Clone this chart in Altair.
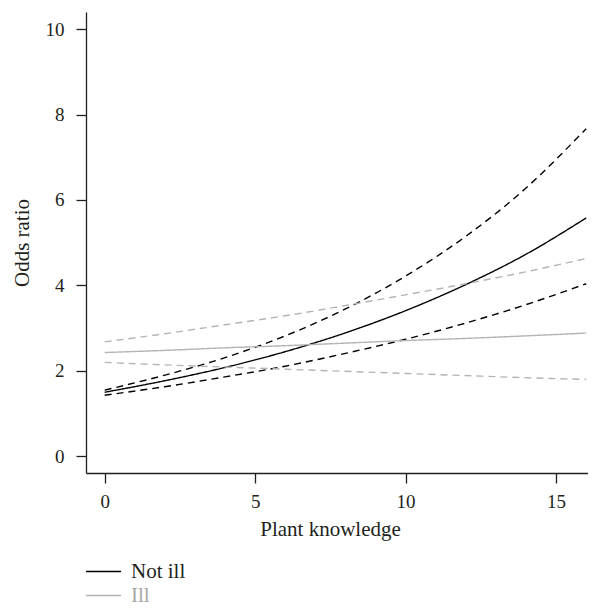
import altair as alt
import pandas as pd

# Plant knowledge values where the curves were read
x_vals = [0, 2, 4, 6, 8, 10, 12, 14, 16]

# Not ill: estimate and confidence band (odds ratio)
notill_est = [1.50, 1.77, 2.08, 2.45, 2.89, 3.41, 4.02, 4.73, 5.58]
notill_hi = [1.55, 1.90, 2.31, 2.82, 3.45, 4.22, 5.15, 6.28, 7.67]
notill_lo = [1.43, 1.63, 1.86, 2.11, 2.41, 2.74, 3.12, 3.55, 4.04]

# Ill: estimate and confidence band (odds ratio)
ill_est = [2.43, 2.48, 2.54, 2.59, 2.65, 2.71, 2.76, 2.82, 2.885]
ill_hi = [2.68, 2.87, 3.08, 3.29, 3.53, 3.78, 4.04, 4.32, 4.63]
ill_lo = [2.20, 2.14, 2.09, 2.04, 1.99, 1.94, 1.89, 1.84, 1.80]

groups = ["Not ill", "Ill"]
kinds = ["estimate", "lower", "upper"]

series = {
    ("Not ill", "estimate"): notill_est,
    ("Not ill", "upper"): notill_hi,
    ("Not ill", "lower"): notill_lo,
    ("Ill", "estimate"): ill_est,
    ("Ill", "upper"): ill_hi,
    ("Ill", "lower"): ill_lo,
}

rows = []
for (g, k), ys in series.items():
    for xv, yv in zip(x_vals, ys):
        rows.append({"x": xv, "y": yv, "group": g, "kind": k, "line": g + "-" + k})
df = pd.DataFrame(rows)

FONT = "Liberation Serif"
TXT = "#231f20"

chart = alt.Chart(df).mark_line(interpolate="monotone", strokeWidth=1.4).encode(
    x=alt.X(
        "x:Q",
        scale=alt.Scale(domain=[-0.62, 16.06], nice=False, zero=False),
        axis=alt.Axis(values=[0, 5, 10, 15], title="Plant knowledge",
                      labelPadding=9, titlePadding=7, titleX=244),
    ),
    y=alt.Y(
        "y:Q",
        scale=alt.Scale(domain=[-0.39, 10.4], nice=False, zero=False),
        axis=alt.Axis(values=[0, 2, 4, 6, 8, 10], title="Odds ratio",
                      labelPadding=12, titlePadding=13),
    ),
    color=alt.Color(
        "group:N",
        scale=alt.Scale(domain=groups, range=["#000000", "#b4b4b4"]),
        legend=alt.Legend(
            title=None,
            orient="none",
            legendX=7,
            legendY=549,
            symbolType="M-2,0H2",
            symbolSize=306,
            symbolStrokeWidth=1.5,
            labelFont=FONT,
            labelFontSize=21,
            labelOffset=17,
            rowPadding=2,
            labelColor={"expr": "datum.label == 'Ill' ? '#a8a8a8' : '#231f20'"},
        ),
    ),
    strokeDash=alt.StrokeDash(
        "kind:N",
        scale=alt.Scale(domain=kinds, range=[[1, 0], [7, 5], [7, 5]]),
        legend=None,
    ),
    detail="line:N",
).properties(
    width=502,
    height=461,
    autosize=alt.AutoSizeParams(type="none"),
    padding={"left": 78, "top": 4, "right": 0, "bottom": 133},
).configure_view(
    stroke=None
).configure_axis(
    grid=False,
    domainColor=TXT,
    tickColor=TXT,
    domainWidth=1.3,
    tickWidth=1.3,
    tickSize=10,
    labelFont=FONT,
    labelFontSize=19,
    labelColor=TXT,
    titleFont=FONT,
    titleFontSize=21,
    titleFontWeight="normal",
    titleColor=TXT,
)

chart.save("out.html", embed_options={"renderer": "svg", "actions": False})
